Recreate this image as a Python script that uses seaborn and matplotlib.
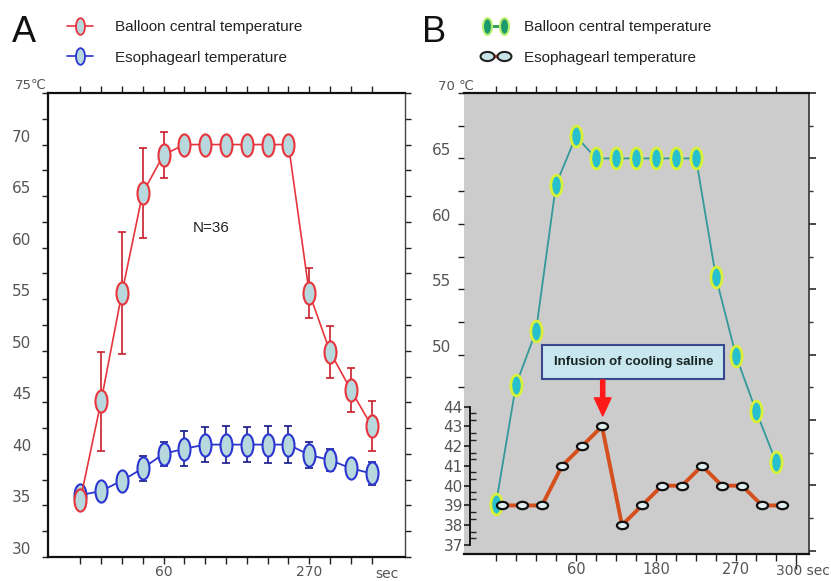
import matplotlib
matplotlib.use("Agg")
import matplotlib.pyplot as plt
import matplotlib.path as mpath
import matplotlib.transforms as mtransforms
from matplotlib.lines import Line2D
from matplotlib.ticker import FixedLocator
import seaborn as sns

# ---- panel A: mean of N=36, 15 samples ----
a_pos = [1, 2, 3, 4, 5, 6, 7, 8, 9, 10, 11, 12, 13, 14, 15]
a_balloon = [35.5, 45.1, 55.6, 65.3, 69.0, 70, 70, 70, 70, 70, 70, 55.6, 49.9, 46.2, 42.7]
a_balloon_err = [0.3, 4.8, 5.9, 4.4, 2.2, 0.3, 0.3, 0.3, 0.3, 0.3, 0.3, 2.4, 2.5, 2.1, 2.45]
a_esoph = [36.0, 36.4, 37.4, 38.6, 40.0, 40.5, 40.9, 40.9, 40.9, 40.9, 40.9, 39.9, 39.4, 38.6, 38.1]
a_esoph_err = [0.4, 0.4, 0.5, 1.2, 1.2, 1.7, 1.7, 1.8, 1.7, 1.8, 1.8, 1.3, 1.1, 0.5, 1.1]
a_xlabels = {5: "60", 12: "270"}

# ---- panel B: single case ----
b_pos = [1, 2, 3, 4, 5, 6, 7, 8, 9, 10, 11, 12, 13, 14, 15]
b_balloon = [38.6, 47.7, 51.8, 63.0, 66.7, 65, 65, 65, 65, 65, 65, 55.9, 49.9, 45.7, 41.8]
b_esoph_pos = [1.3, 2.3, 3.3, 4.3, 5.3, 6.3, 7.3, 8.3, 9.3, 10.3, 11.3, 12.3, 13.3, 14.3, 15.3]
b_esoph = [39, 39, 39, 41, 42, 43, 38, 39, 40, 40, 41, 40, 40, 39, 39]
b_xlabels = {5: "60", 9: "180", 13: "270"}

sns.set_theme(style="ticks")
plt.rcParams["font.family"] = ["DejaVu Sans", "Noto Sans CJK JP"]
LEG_FONT = ["Liberation Sans", "DejaVu Sans"]


def ellipse(w, h):
    return mpath.Path.unit_circle().transformed(mtransforms.Affine2D().scale(w, h))


tall = ellipse(0.54, 1.0)
flat = ellipse(1.0, 0.66)

red, blue, navy = "#e8343c", "#2b35d0", "#15168a"
pale = "#b7d8dc"

fig = plt.figure(figsize=(8.31, 5.81), dpi=100)
axA = fig.add_axes([48 / 831, 24 / 581, 357 / 831, 464 / 581])
axB = fig.add_axes([464 / 831, 27 / 581, 345 / 831, 461 / 581])

# ================= panel A =================
axA.errorbar(a_pos, a_esoph, yerr=a_esoph_err, fmt="none", ecolor=navy,
             elinewidth=1.2, capsize=3, capthick=1.2, zorder=2)
sns.lineplot(x=a_pos, y=a_esoph, ax=axA, color=blue, linewidth=1.3, marker=tall,
             markersize=16, markerfacecolor=pale, markeredgecolor=blue,
             markeredgewidth=1.5, zorder=3)
axA.errorbar(a_pos, a_balloon, yerr=a_balloon_err, fmt="none", ecolor="#c8202c",
             elinewidth=1.2, capsize=3, capthick=1.2, zorder=4)
sns.lineplot(x=a_pos, y=a_balloon, ax=axA, color=red, linewidth=1.2, marker=tall,
             markersize=16, markerfacecolor=pale, markeredgecolor=red,
             markeredgewidth=1.5, zorder=5)

axA.set_xlim(-0.55, 16.6)
axA.set_ylim(30, 75)
axA.set_xlabel("")
axA.set_ylabel("")
axA.set_xticks(a_pos)
axA.set_xticklabels([a_xlabels.get(p, "") for p in a_pos])
axA.set_yticks([30, 35, 40, 45, 50, 55, 60, 65, 70, 75])
axA.set_yticklabels(["30", "35", "40", "45", "50", "55", "60", "65", "70", ""])
axA.yaxis.set_minor_locator(FixedLocator([32.5, 37.5, 42.5, 47.5, 52.5, 57.5, 62.5, 67.5, 72.5]))
axA.tick_params(axis="both", which="both", direction="out", color="#222",
                labelcolor="#555", labelsize=11)
axA.tick_params(axis="y", which="both", left=True, right=True, length=4, width=1, pad=8)
axA.tick_params(axis="x", which="major", top=True, bottom=True, length=5, width=1, pad=1,
                labelsize=10)
for lab in axA.get_yticklabels():
    lab.set_va("bottom")
for s in ["left", "bottom", "top"]:
    axA.spines[s].set_linewidth(1.6)
    axA.spines[s].set_color("#111")
axA.spines["right"].set_linewidth(1.0)
axA.spines["right"].set_color("#444")
axA.set_facecolor("white")

axA.text(6.42, 61.9, "N=36", ha="left", va="center", fontsize=11,
         family=LEG_FONT, color="#222")
axA.text(15.15, -0.036, "sec", transform=axA.get_xaxis_transform(), ha="left",
         va="center", fontsize=10, color="#555")
fig.text(15 / 831, 1 - 85 / 581, "75℃", ha="left", va="center", fontsize=9.5, color="#555")

# ================= panel B =================
axB.set_facecolor("#cccccc")
sns.lineplot(x=b_pos, y=b_balloon, ax=axB, color="#33999a", linewidth=1.3, marker=tall,
             markersize=15, markerfacecolor="#27c0cc", markeredgecolor="#d8f03c",
             markeredgewidth=2.0, zorder=3)
axB.set_xlim(-0.6, 16.65)
axB.set_ylim(34.76, 70)
axB.set_xlabel("")
axB.set_ylabel("")
b_xticks = b_pos + [16]
axB.set_xticks(b_xticks)
axB.set_xticklabels([b_xlabels.get(p, "") for p in b_xticks])
axB.set_yticks([50, 55, 60, 65, 70])
axB.set_yticklabels(["50", "55", "60", "65", ""])
axB.yaxis.set_minor_locator(FixedLocator([47.5, 52.5, 57.5, 62.5, 67.5]))
axB.tick_params(axis="both", which="both", direction="out", color="#222",
                labelcolor="#555", labelsize=11)
axB.tick_params(axis="y", which="both", left=True, right=False, length=4, width=1, pad=5)
axB.tick_params(axis="x", which="major", top=True, bottom=True, length=5, width=1, pad=1,
                labelsize=10.5)
xt = axB.xaxis.get_major_ticks()
xt[-1].tick2line.set_visible(False)
xt[-1].tick1line.set_markersize(11)
for lab in axB.get_yticklabels():
    lab.set_va("bottom")
axB.spines["left"].set_visible(False)
axB.spines["right"].set_visible(False)
for s in ["bottom", "top"]:
    axB.spines[s].set_linewidth(1.6)
    axB.spines[s].set_color("#111")

secB = axB.secondary_yaxis("right")
secB.set_yticks([35, 40, 45, 50, 55, 60, 65, 70])
secB.set_yticklabels([])
secB.yaxis.set_minor_locator(FixedLocator([37.5, 42.5, 47.5, 52.5, 57.5, 62.5, 67.5]))
secB.tick_params(which="major", direction="out", length=5, color="#333")
secB.tick_params(which="minor", direction="out", length=3, color="#333")
secB.spines["right"].set_color("#333")
secB.spines["right"].set_linewidth(1.2)

axB.text(7.87, 49.43, "Infusion of cooling saline", ha="center", va="center",
         fontsize=9.5, fontweight="bold", family=LEG_FONT, color="#1a2626", zorder=6,
         bbox=dict(boxstyle="square,pad=0.85", fc="#c8e6ee", ec="#3a4890", lw=1.5))
axB.text(15.0, -0.036, "300 sec", transform=axB.get_xaxis_transform(), ha="left",
         va="center", fontsize=10, color="#555")
fig.text(438 / 831, 1 - 86 / 581, "70 ℃", ha="left", va="center", fontsize=9.5, color="#555")

# esophageal temperature on its own small scale
ax2 = axB.twinx()
sns.lineplot(x=b_esoph_pos, y=b_esoph, ax=ax2, color="#d4501e", linewidth=2.8, marker=flat,
             markersize=8, markerfacecolor="#e2f0f2", markeredgecolor="#111",
             markeredgewidth=1.6, zorder=4)
ax2.set_ylim(36.54, 59.88)
ax2.set_ylabel("")
ax2.set_yticks([37, 38, 39, 40, 41, 42, 43, 44])
ax2.yaxis.tick_left()
ax2.yaxis.set_minor_locator(FixedLocator([37 + k / 3 for k in range(1, 21)]))
for s in ["right", "top", "bottom"]:
    ax2.spines[s].set_visible(False)
ax2.spines["left"].set_visible(True)
ax2.spines["left"].set_position(("axes", 0.017))
ax2.spines["left"].set_bounds(37, 44)
ax2.spines["left"].set_color("#111")
ax2.spines["left"].set_linewidth(1.4)
ax2.tick_params(axis="y", which="major", direction="out", length=4, pad=1,
                labelsize=11, labelcolor="#555", color="#222")
ax2.tick_params(axis="y", which="minor", direction="in", length=4, color="#222")
ax2.annotate("", xy=(6.335, 43.53), xytext=(6.335, 45.35),
             arrowprops=dict(color="#ff1a1a", width=3, headwidth=12, headlength=13, shrink=0))

# ---- legends and panel letters ----
legA = [
    Line2D([0], [0], color=red, lw=1.2, marker=tall, ms=12, mfc=pale, mec=red, mew=1.3),
    Line2D([0], [0], color=blue, lw=1.2, marker=tall, ms=12, mfc=pale, mec=blue, mew=1.3),
]
fig.legend(legA, ["Balloon central temperature", "Esophagearl temperature"],
           loc="upper left", bbox_to_anchor=(67 / 831, 1 - 20 / 581), frameon=False,
           numpoints=1, handlelength=1.7, handletextpad=1.45, labelspacing=1.1,
           borderpad=0, borderaxespad=0, prop={"family": LEG_FONT, "size": 11},
           labelcolor="#222")
legB = [
    Line2D([0], [0], color="#2a9a4a", lw=2, marker=tall, ms=12, mfc="#1a9a6a",
           mec="#b8ee70", mew=1.5),
    Line2D([0], [0], color="#dd2a1a", lw=2.5, marker=flat, ms=10, mfc="#c8e4e8",
           mec="#222", mew=1.5),
]
fig.legend(legB, ["Balloon central temperature", "Esophagearl temperature"],
           loc="upper left", bbox_to_anchor=(482 / 831, 1 - 20 / 581), frameon=False,
           numpoints=2, handlelength=1.75, handletextpad=1.0, labelspacing=1.1,
           borderpad=0, borderaxespad=0, prop={"family": LEG_FONT, "size": 11},
           labelcolor="#222")

fig.text(12 / 831, 1 - 42 / 581, "A", ha="left", va="baseline", fontsize=26,
         family=LEG_FONT, color="#111")
fig.text(422 / 831, 1 - 42 / 581, "B", ha="left", va="baseline", fontsize=26,
         family=LEG_FONT, color="#111")

fig.savefig("out.png", dpi=100)
